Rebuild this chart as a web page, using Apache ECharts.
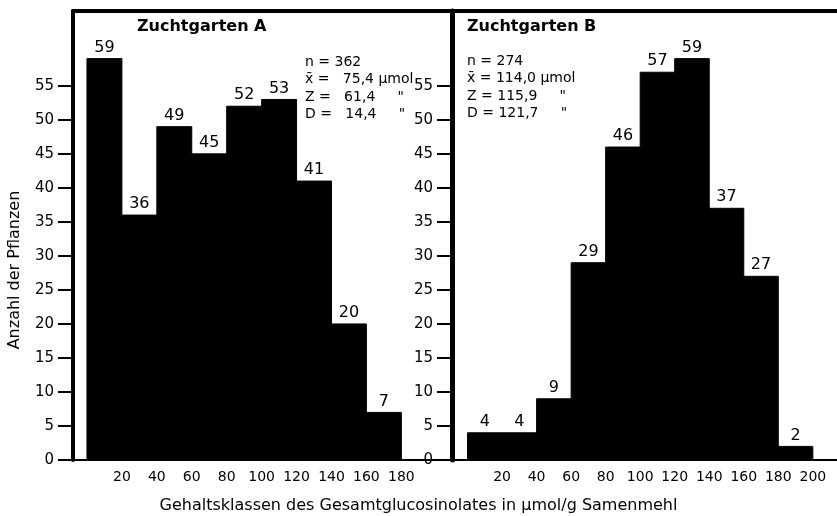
<!DOCTYPE html>
<html>
<head>
<meta charset="utf-8">
<script src="https://cdn.jsdelivr.net/npm/echarts@6/dist/echarts.min.js"></script>
<style>
html,body{margin:0;padding:0;background:#fff;}
#chart{width:837px;height:516px;}
</style>
</head>
<body>
<div id="chart"></div>
<script>
// ---- data ----
const binWidth = 20;
const binStartsA = [0, 20, 40, 60, 80, 100, 120, 140, 160];
const countsA = [59, 36, 49, 45, 52, 53, 41, 20, 7];
const binStartsB = [0, 20, 40, 60, 80, 100, 120, 140, 160, 180];
const countsB = [4, 4, 9, 29, 46, 57, 59, 37, 27, 2];
const xTicksA = [20, 40, 60, 80, 100, 120, 140, 160, 180];
const xTicksB = [20, 40, 60, 80, 100, 120, 140, 160, 180, 200];
const yTicks = [0, 5, 10, 15, 20, 25, 30, 35, 40, 45, 50, 55];
const titleA = 'Zuchtgarten A';
const titleB = 'Zuchtgarten B';
const statsA = ['n = 362', 'x\u0304 =   75,4 \u00b5mol', 'Z =   61,4     "', 'D =   14,4     "'];
const statsB = ['n = 274', 'x\u0304 = 114,0 \u00b5mol', 'Z = 115,9     "', 'D = 121,7     "'];
const yTitle = 'Anzahl der Pflanzen';
const xTitle = 'Gehaltsklassen des Gesamtglucosinolates in \u00b5mol/g Samenmehl';

const FONT = 'DejaVu Sans';

function toBins(starts, counts) {
  return starts.map((s, i) => [s, s + binWidth, counts[i]]);
}

function renderBar(params, api) {
  const x0 = api.value(0), x1 = api.value(1), v = api.value(2);
  const pTop = api.coord([x0, v]);
  const pBot = api.coord([x1, 0]);
  return {
    type: 'group',
    children: [
      { type: 'rect',
        shape: { x: pTop[0], y: pTop[1], width: pBot[0] - pTop[0], height: pBot[1] - pTop[1] },
        style: { fill: '#000', stroke: '#000', lineWidth: 1 } },
      { type: 'text',
        style: { text: String(v), x: (pTop[0] + pBot[0]) / 2, y: pTop[1] - 3,
                 align: 'center', verticalAlign: 'bottom',
                 font: '16px "' + FONT + '"', fill: '#000' } }
    ]
  };
}

function xBottom(grid, min, max, ticks) {
  return {
    type: 'value', gridIndex: grid, position: 'bottom', min: min, max: max,
    splitLine: { show: false },
    axisLine: { show: true, onZero: false, lineStyle: { color: '#000', width: 2 } },
    axisTick: { show: false },
    axisLabel: { show: true, customValues: ticks, color: '#000', fontSize: 14, fontFamily: FONT, margin: 10 }
  };
}
function xTop(grid, min, max) {
  return {
    type: 'value', gridIndex: grid, position: 'top', min: min, max: max,
    splitLine: { show: false },
    axisLine: { show: true, onZero: false, lineStyle: { color: '#000', width: 4 } },
    axisTick: { show: false }, axisLabel: { show: false }
  };
}
function yAxisFor(grid, lw) {
  return {
    type: 'value', gridIndex: grid, min: 0, max: 66,
    splitLine: { show: false },
    axisLine: { show: true, onZero: false, lineStyle: { color: '#000', width: lw } },
    axisTick: { show: true, customValues: yTicks, length: 15, lineStyle: { color: '#000', width: 2 } },
    axisLabel: { show: true, customValues: yTicks, color: '#000', fontSize: 15, fontFamily: FONT, margin: 19 }
  };
}

const chart = echarts.init(document.getElementById('chart'), null, { renderer: 'canvas' });

function statsText(lines, x, y) {
  return lines.map((t, i) => ({
    type: 'text', left: x, top: y + i * 17.5,
    style: { text: t, font: '14px "' + FONT + '"', fill: '#000' }
  }));
}

chart.setOption({
  backgroundColor: '#fff',
  animation: false,
  grid: [
    { left: 73, right: 385, top: 11, bottom: 56 },
    { left: 452, right: 0, top: 11, bottom: 56 }
  ],
  xAxis: [
    xBottom(0, -8, 209, xTicksA),
    xBottom(1, -9, 214, xTicksB),
    xTop(0, -8, 209),
    xTop(1, -9, 214)
  ],
  yAxis: [
    yAxisFor(0, 4),
    yAxisFor(1, 5)
  ],
  series: [
    { type: 'custom', xAxisIndex: 0, yAxisIndex: 0, renderItem: renderBar,
      encode: { x: [0, 1], y: 2 }, data: toBins(binStartsA, countsA), clip: false },
    { type: 'custom', xAxisIndex: 1, yAxisIndex: 1, renderItem: renderBar,
      encode: { x: [0, 1], y: 2 }, data: toBins(binStartsB, countsB), clip: false }
  ],
  graphic: [
    { type: 'text', left: 137, top: 19, style: { text: titleA, font: 'bold 16px "' + FONT + '"', fill: '#000' } },
    { type: 'text', left: 467, top: 19, style: { text: titleB, font: 'bold 16px "' + FONT + '"', fill: '#000' } },
    ...statsText(statsA, 305, 55),
    ...statsText(statsB, 467, 54),
    { type: 'text', x: 15, y: 270, rotation: Math.PI / 2,
      style: { text: yTitle, font: '16px "' + FONT + '"', fill: '#000', align: 'center', verticalAlign: 'middle' } },
    { type: 'text', left: 'center', top: 498, style: { text: xTitle, font: '16px "' + FONT + '"', fill: '#000' } }
  ]
});
</script>
</body>
</html>
